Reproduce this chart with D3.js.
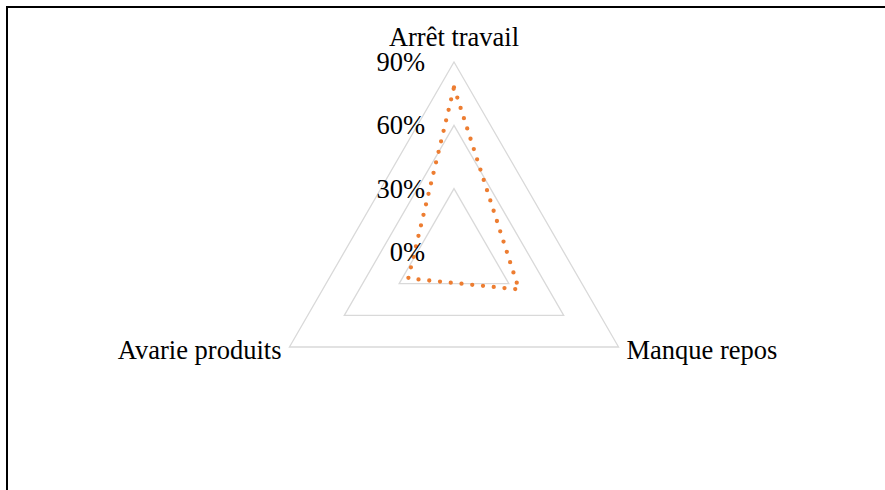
<!DOCTYPE html>
<html>
<head>
<meta charset="utf-8">
<script src="https://cdn.jsdelivr.net/npm/d3@7"></script>
<style>
body { margin: 0; background: #fff; }
</style>
</head>
<body>
<script>
var categories = ["Arrêt travail", "Manque repos", "Avarie produits"];
var values = [0.78, 0.355, 0.25];
var ticks = [0, 0.3, 0.6, 0.9];
var tickLabels = ["0%", "30%", "60%", "90%"];

var width = 885;
var height = 490;
var cx = 454;
var cy = 252;
var radius = 190;

var gridcolor = "#d9d9d9";
var linecolor = "#ED7D31";
var font = "'Liberation Serif', 'Times New Roman', serif";

var svg = d3.select("body")
	.append("svg")
	.attr("width", width)
	.attr("height", height)

// chart frame, only top and left are inside the picture
svg.append("rect")
	.attr("x", 7)
	.attr("y", 7)
	.attr("width", width)
	.attr("height", height)
	.style("fill", "none")
	.style("stroke", "#000")
	.style("stroke-width", 2)

var r = d3.scaleLinear().domain([0, 0.9]).range([0, radius]);
var angle = d3.scalePoint().domain(categories).range([0, 2 * Math.PI * 2 / 3]);

function pt(cat, v) {
	var a = angle(cat);
	return [cx + r(v) * Math.sin(a), cy - r(v) * Math.cos(a)];
}

var line = d3.line().curve(d3.curveLinearClosed);

var g = svg.append("g");

g.selectAll(".grid")
	.data(ticks.filter(t => t > 0))
	.enter().append("path")
	.attr("class", "grid")
	.attr("d", t => line(categories.map(c => pt(c, t))))
	.style("fill", "none")
	.style("stroke", gridcolor)
	.style("stroke-width", 1.3)

g.append("path")
	.attr("d", line(categories.map((c, i) => pt(c, values[i]))))
	.style("fill", "none")
	.style("stroke", linecolor)
	.style("stroke-width", 4.3)
	.style("stroke-linecap", "round")
	.style("stroke-dasharray", "0 10.8")

g.selectAll(".tick")
	.data(ticks)
	.enter().append("text")
	.attr("class", "tick")
	.attr("x", 425)
	.attr("y", t => cy - r(t) + 9)
	.text((t, i) => tickLabels[i])
	.attr("text-anchor", "end")
	.attr("font-family", font)
	.attr("font-size", "26.5px")
	.attr("fill", "#000")

var labelPos = [
	{dx: 0, dy: -16, anchor: "middle"},
	{dx: 8, dy: 12, anchor: "start"},
	{dx: -8, dy: 12, anchor: "end"}
];

g.selectAll(".cat")
	.data(categories)
	.enter().append("text")
	.attr("class", "cat")
	.attr("x", (c, i) => pt(c, 0.9)[0] + labelPos[i].dx)
	.attr("y", (c, i) => pt(c, 0.9)[1] + labelPos[i].dy)
	.text(c => c)
	.attr("text-anchor", (c, i) => labelPos[i].anchor)
	.attr("font-family", font)
	.attr("font-size", "26.5px")
	.attr("fill", "#000")
</script>
</body>
</html>
